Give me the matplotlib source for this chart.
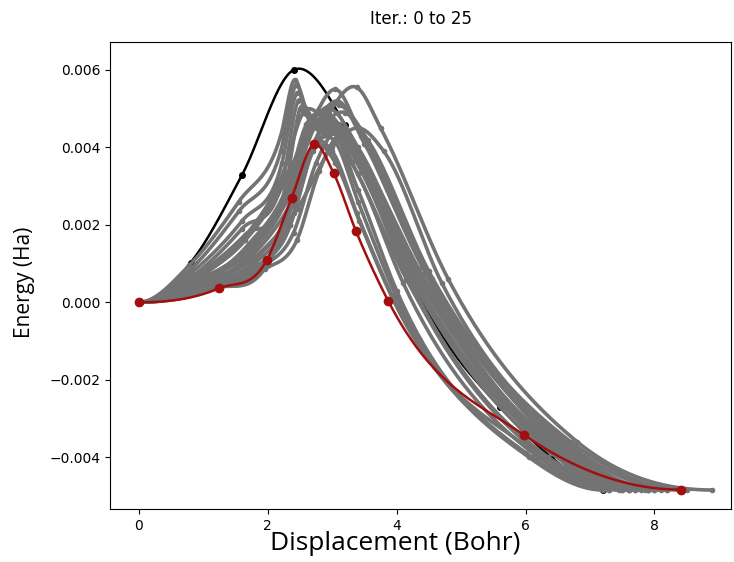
import numpy as np
import matplotlib
matplotlib.use("Agg")
import matplotlib.pyplot as plt

# ---------------- data (Energy in mHa, displacement in Bohr) ----------------
iter0_x = [0, 0.8, 1.6, 2.4, 3.2, 4.0, 4.8, 5.6, 6.4, 7.2]
iter0_e = [0, 1.02, 3.29, 6.0, 4.57, 1.3, -1.1, -2.7, -4.0, -4.85]

final_x = [0, 1.24, 1.98, 2.37, 2.72, 3.02, 3.37, 3.87, 5.97, 8.41]
final_e = [0, 0.36, 1.08, 2.7, 4.08, 3.34, 1.83, 0.03, -3.42, -4.84]

gray_x = [
    [0, 0.78, 1.55, 2.2, 2.42, 2.6, 3.15, 4.05, 6.3, 7.3],
    [0, 0.8, 1.55, 2.2, 2.44, 2.63, 3.2, 4.15, 6.4, 7.5],
    [0, 0.8, 1.6, 2.22, 2.45, 2.65, 3.1, 4.1, 6.35, 7.45],
    [0, 0.85, 1.6, 2.25, 2.47, 2.68, 3.25, 4.25, 6.5, 7.7],
    [0, 0.85, 1.65, 2.28, 2.5, 2.75, 3.3, 4.3, 6.55, 7.8],
    [0, 0.85, 1.65, 2.3, 2.72, 3.05, 3.45, 4.4, 6.6, 7.9],
    [0, 0.9, 1.7, 2.35, 2.75, 3.08, 3.5, 4.45, 6.65, 8.0],
    [0, 0.9, 1.7, 2.4, 2.95, 3.38, 3.75, 4.8, 6.8, 8.9],
    [0, 0.95, 1.75, 2.45, 3.0, 3.42, 3.8, 4.7, 6.7, 8.4],
    [0, 0.95, 1.75, 2.4, 2.85, 3.2, 3.6, 4.55, 6.6, 8.2],
    [0, 0.9, 1.7, 2.35, 2.7, 2.95, 3.4, 4.3, 6.5, 8.0],
    [0, 1.0, 1.8, 2.35, 2.65, 2.9, 3.35, 4.2, 6.4, 7.9],
    [0, 1.0, 1.8, 2.3, 2.6, 2.85, 3.3, 4.15, 6.3, 7.6],
    [0, 1.05, 1.85, 2.35, 2.65, 2.95, 3.4, 4.1, 6.2, 7.5],
    [0, 1.05, 1.9, 2.4, 2.75, 3.05, 3.45, 4.2, 6.3, 7.7],
    [0, 1.1, 1.95, 2.45, 2.8, 3.1, 3.5, 4.25, 6.35, 7.9],
    [0, 1.1, 1.9, 2.35, 2.7, 3.0, 3.4, 4.0, 6.1, 7.3],
    [0, 1.15, 1.95, 2.4, 2.72, 3.02, 3.4, 3.98, 6.05, 7.2],
    [0, 1.15, 2.0, 2.38, 2.72, 3.0, 3.38, 3.95, 6.0, 7.6],
    [0, 1.2, 2.0, 2.4, 2.75, 3.05, 3.42, 3.95, 6.0, 8.2],
    [0, 0.9, 1.65, 2.25, 2.55, 2.85, 3.3, 4.2, 6.45, 7.6],
    [0, 0.95, 1.7, 2.3, 2.6, 2.9, 3.35, 4.3, 6.5, 7.85],
    [0, 1.0, 1.75, 2.3, 2.62, 2.95, 3.45, 4.4, 6.6, 8.1],
    [0, 0.85, 1.6, 2.3, 2.8, 3.1, 3.55, 4.5, 6.7, 8.5],
]
gray_e = [
    [0, 0.95, 2.6, 4.3, 5.75, 4.85, 4.5, 1.2, -3.7, -4.85],
    [0, 0.85, 2.35, 3.9, 5.6, 4.8, 4.35, 1.0, -3.8, -4.85],
    [0, 0.75, 2.1, 3.6, 5.4, 4.7, 4.6, 1.3, -3.6, -4.85],
    [0, 0.7, 1.9, 3.3, 5.2, 4.6, 4.2, 0.9, -3.8, -4.85],
    [0, 0.65, 1.75, 3.0, 5.0, 4.55, 4.1, 0.8, -3.8, -4.85],
    [0, 0.6, 1.6, 3.2, 4.8, 5.5, 4.3, 0.9, -3.7, -4.85],
    [0, 0.55, 1.4, 2.9, 4.6, 5.2, 4.1, 0.8, -3.7, -4.85],
    [0, 0.5, 1.3, 2.9, 4.9, 5.55, 4.5, 0.6, -3.6, -4.85],
    [0, 0.45, 1.1, 2.4, 4.0, 4.5, 3.9, 0.5, -3.7, -4.85],
    [0, 0.5, 1.2, 2.7, 4.5, 4.9, 3.9, 0.6, -3.8, -4.85],
    [0, 0.55, 1.45, 3.1, 4.7, 5.0, 4.0, 0.9, -3.8, -4.85],
    [0, 0.45, 1.1, 2.5, 4.4, 4.8, 3.7, 0.7, -3.9, -4.85],
    [0, 0.45, 1.0, 2.2, 4.2, 4.7, 3.6, 0.6, -4.0, -4.85],
    [0, 0.42, 0.95, 2.0, 3.9, 4.5, 3.3, 0.5, -4.0, -4.85],
    [0, 0.4, 0.9, 1.8, 3.6, 4.4, 3.4, 0.5, -4.0, -4.85],
    [0, 0.38, 0.85, 1.6, 3.4, 4.3, 3.3, 0.4, -4.0, -4.85],
    [0, 0.38, 0.9, 2.0, 3.9, 4.4, 2.9, 0.3, -4.0, -4.85],
    [0, 0.36, 0.95, 2.3, 4.0, 4.2, 2.6, 0.2, -4.0, -4.85],
    [0, 0.36, 1.0, 2.5, 4.1, 3.9, 2.3, 0.1, -3.9, -4.85],
    [0, 0.36, 1.05, 2.6, 4.05, 3.6, 2.1, 0.05, -3.7, -4.85],
    [0, 0.6, 1.7, 3.4, 4.9, 4.8, 4.0, 1.0, -3.8, -4.85],
    [0, 0.5, 1.5, 3.0, 4.6, 4.9, 3.9, 0.9, -3.8, -4.85],
    [0, 0.45, 1.3, 2.7, 4.3, 4.6, 3.7, 0.7, -3.7, -4.85],
    [0, 0.6, 1.6, 3.3, 4.9, 5.1, 4.2, 0.8, -3.6, -4.85],
]

title_text = "Iter.: 0 to 25"
x_label = "Displacement (Bohr)"
y_label = "Energy (Ha)"
x_ticks = [0, 2, 4, 6, 8]
y_ticks = [-0.004, -0.002, 0.000, 0.002, 0.004, 0.006]
y_tick_labels = ["\u22120.004", "\u22120.002", "0.000", "0.002", "0.004", "0.006"]


def spline(x, y, n=40):
    """Smooth cubic Hermite curve through the images (flat at the end images)."""
    x = np.asarray(x, float)
    y = np.asarray(y, float)
    m = np.zeros_like(y)
    for i in range(1, len(x) - 1):
        hl, hr = x[i] - x[i - 1], x[i + 1] - x[i]
        sl, sr = (y[i] - y[i - 1]) / hl, (y[i + 1] - y[i]) / hr
        m[i] = (sl * hr + sr * hl) / (hl + hr)
    xs, ys = [], []
    for i in range(len(x) - 1):
        h = x[i + 1] - x[i]
        t = np.linspace(0, 1, n, endpoint=(i == len(x) - 2))
        h00 = 2 * t**3 - 3 * t**2 + 1
        h10 = t**3 - 2 * t**2 + t
        h01 = -2 * t**3 + 3 * t**2
        h11 = t**3 - t**2
        xs.append(x[i] + t * h)
        ys.append(h00 * y[i] + h10 * h * m[i] + h01 * y[i + 1] + h11 * h * m[i + 1])
    return np.concatenate(xs), np.concatenate(ys)


fig = plt.figure(figsize=(7.34, 5.62), dpi=100)
ax = fig.add_axes([110 / 734, 1 - 509 / 562, 621 / 734, (509 - 41.7) / 562])

# initial path
e0 = np.array(iter0_e) * 1e-3
sx, sy = spline(iter0_x, e0)
ax.plot(sx, sy, color="black", lw=1.8, zorder=1)
ax.plot(iter0_x, e0, "o", color="black", ms=4, zorder=1)

# intermediate iterations
for gx, ge in zip(gray_x, gray_e):
    eg = np.array(ge) * 1e-3
    sx, sy = spline(gx, eg)
    ax.plot(sx, sy, color="#737373", lw=2.6, zorder=2)
    ax.plot(gx, eg, "o", color="#737373", ms=3, zorder=2)

# final path
ef = np.array(final_e) * 1e-3
sx, sy = spline(final_x, ef)
ax.plot(sx, sy, color="#a30f0f", lw=1.8, zorder=3)
ax.plot(final_x, ef, "o", color="#a30f0f", ms=6, zorder=3)

ax.set_xlim(-0.45, 9.19)
ax.set_ylim(-0.00534, 0.00673)
ax.set_xticks(x_ticks)
ax.set_yticks(y_ticks)
ax.set_yticklabels(y_tick_labels)
ax.tick_params(labelsize=10)
ax.set_title(title_text, fontsize=12, pad=13)
ax.set_xlabel(x_label, fontsize=19, family="Open Sans")
ax.set_ylabel(y_label, fontsize=15, family="Open Sans")
ax.xaxis.set_label_coords(0.46, -0.048)
ax.yaxis.set_label_coords(-0.12, 0.486)

fig.savefig("out.png", dpi=100)
